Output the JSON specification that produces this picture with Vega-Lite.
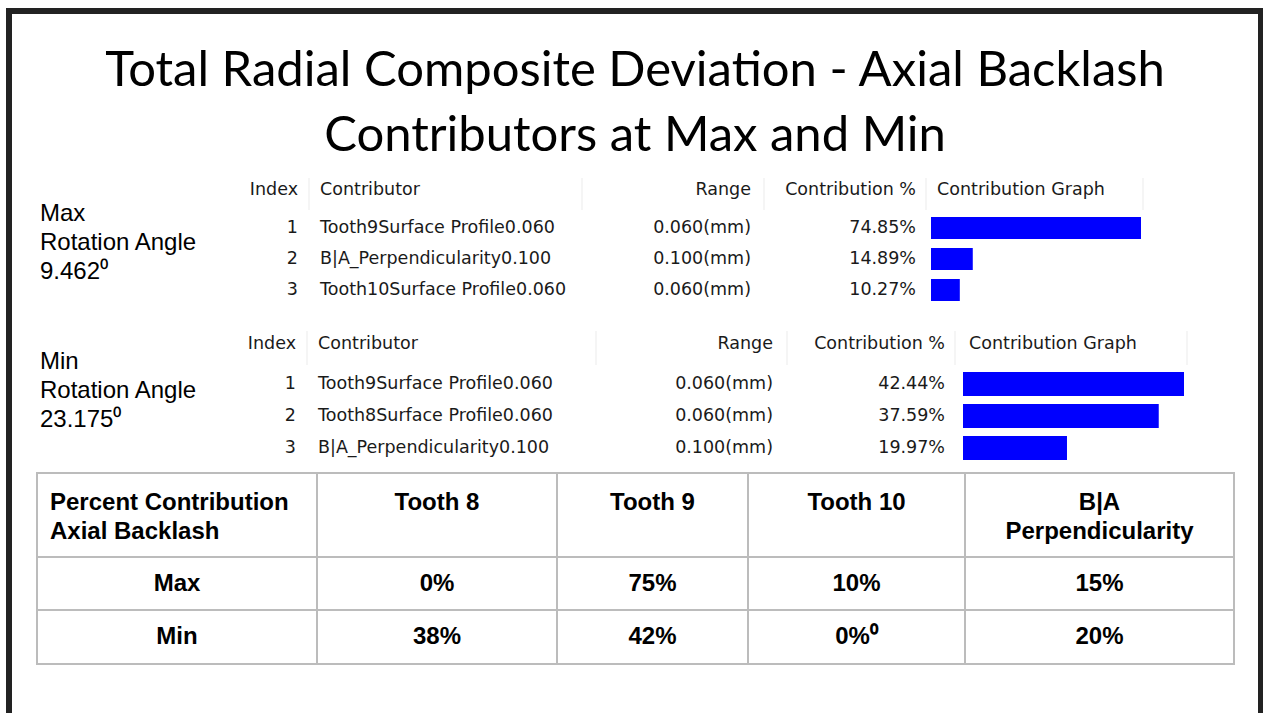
{
  "$schema": "https://vega.github.io/schema/vega-lite/v6.json",
  "width": 1263,
  "height": 713,
  "autosize": {"type": "fit", "contains": "padding"},
  "padding": {"left": 9, "top": 11, "right": 2, "bottom": -10},
  "background": "#ffffff",
  "title": {
    "text": ["Total Radial Composite Deviation - Axial Backlash", "Contributors at Max and Min"],
    "anchor": "middle",
    "frame": "group",
    "orient": "top",
    "offset": -150,
    "font": "Lato",
    "fontSize": 49,
    "fontWeight": "normal",
    "color": "#000000",
    "lineHeight": 65
  },
  "datasets": {
    "cases": [
      {"case": "Max", "label": "Max\nRotation Angle\n9.462⁰"},
      {"case": "Min", "label": "Min\nRotation Angle\n23.175⁰"}
    ],
    "contributorColumns": [
      {"col": 1, "header": "Index"},
      {"col": 2, "header": "Contributor"},
      {"col": 3, "header": "Range"},
      {"col": 4, "header": "Contribution %"},
      {"col": 5, "header": "Contribution Graph"}
    ],
    "contributors": [
      {"case": "Max", "Index": 1, "Contributor": "Tooth9Surface Profile0.060", "Range": "0.060(mm)", "Contribution": 0.7485},
      {"case": "Max", "Index": 2, "Contributor": "B|A_Perpendicularity0.100", "Range": "0.100(mm)", "Contribution": 0.1489},
      {"case": "Max", "Index": 3, "Contributor": "Tooth10Surface Profile0.060", "Range": "0.060(mm)", "Contribution": 0.1027},
      {"case": "Min", "Index": 1, "Contributor": "Tooth9Surface Profile0.060", "Range": "0.060(mm)", "Contribution": 0.4244},
      {"case": "Min", "Index": 2, "Contributor": "Tooth8Surface Profile0.060", "Range": "0.060(mm)", "Contribution": 0.3759},
      {"case": "Min", "Index": 3, "Contributor": "B|A_Perpendicularity0.100", "Range": "0.100(mm)", "Contribution": 0.1997}
    ],
    "summaryColumns": [
      {"col": 1, "header": "Percent Contribution\nAxial Backlash"},
      {"col": 2, "header": "Tooth 8"},
      {"col": 3, "header": "Tooth 9"},
      {"col": 4, "header": "Tooth 10"},
      {"col": 5, "header": "B|A\nPerpendicularity"}
    ],
    "summaryCells": [
      {"row": 1, "col": 1, "cell": "Max"},
      {"row": 1, "col": 2, "cell": "0%"},
      {"row": 1, "col": 3, "cell": "75%"},
      {"row": 1, "col": 4, "cell": "10%"},
      {"row": 1, "col": 5, "cell": "15%"},
      {"row": 2, "col": 1, "cell": "Min"},
      {"row": 2, "col": 2, "cell": "38%"},
      {"row": 2, "col": 3, "cell": "42%"},
      {"row": 2, "col": 4, "cell": "0%⁰"},
      {"row": 2, "col": 5, "cell": "20%"}
    ]
  },
  "layer": [
    {
      "layer": [
        {
          "data": {"name": "cases"},
          "transform": [{"filter": "datum.case === 'Max'"}],
          "mark": {"type": "text", "align": "left", "baseline": "middle", "font": "Liberation Sans", "fontSize": 24, "lineHeight": 29, "lineBreak": "\n", "dy": -14, "color": "#000000"},
          "encoding": {
            "x": {"datum": 0, "type": "quantitative", "scale": {"domain": [0, 1, 2, 3, 4, 5], "range": [31, 289, 311, 742, 907, 928], "nice": false, "zero": false, "padding": 0}, "axis": null},
            "y": {"datum": 1, "type": "quantitative", "scale": {"domain": [0, 1, 3], "range": [179, 217, 279], "nice": false, "zero": false, "padding": 0}, "axis": null},
            "text": {"field": "label"}
          }
        },
        {
          "data": {"name": "contributorColumns"},
          "transform": [{"filter": {"field": "col", "oneOf": [1, 3, 4]}}],
          "mark": {"type": "text", "align": "right", "baseline": "middle", "font": "DejaVu Sans", "fontSize": 17.5, "color": "#1a1a1a"},
          "encoding": {
            "x": {"field": "col", "type": "quantitative", "scale": {"domain": [0, 1, 2, 3, 4, 5], "range": [31, 289, 311, 742, 907, 928], "nice": false, "zero": false, "padding": 0}, "axis": null},
            "y": {"datum": 0, "type": "quantitative", "scale": {"domain": [0, 1, 3], "range": [179, 217, 279], "nice": false, "zero": false, "padding": 0}, "axis": null},
            "text": {"field": "header"}
          }
        },
        {
          "data": {"name": "contributorColumns"},
          "transform": [{"filter": {"field": "col", "oneOf": [2, 5]}}],
          "mark": {"type": "text", "align": "left", "baseline": "middle", "font": "DejaVu Sans", "fontSize": 17.5, "color": "#1a1a1a"},
          "encoding": {
            "x": {"field": "col", "type": "quantitative", "scale": {"domain": [0, 1, 2, 3, 4, 5], "range": [31, 289, 311, 742, 907, 928], "nice": false, "zero": false, "padding": 0}, "axis": null},
            "y": {"datum": 0, "type": "quantitative", "scale": {"domain": [0, 1, 3], "range": [179, 217, 279], "nice": false, "zero": false, "padding": 0}, "axis": null},
            "text": {"field": "header"}
          }
        },
        {
          "data": {"name": "contributors"},
          "transform": [{"filter": "datum.case === 'Max'"}],
          "mark": {"type": "text", "align": "right", "baseline": "middle", "font": "DejaVu Sans", "fontSize": 17.5, "color": "#1a1a1a"},
          "encoding": {
            "x": {"datum": 1, "type": "quantitative", "scale": {"domain": [0, 1, 2, 3, 4, 5], "range": [31, 289, 311, 742, 907, 928], "nice": false, "zero": false, "padding": 0}, "axis": null},
            "y": {"field": "Index", "type": "quantitative", "scale": {"domain": [0, 1, 3], "range": [179, 217, 279], "nice": false, "zero": false, "padding": 0}, "axis": null},
            "text": {"field": "Index"}
          }
        },
        {
          "data": {"name": "contributors"},
          "transform": [{"filter": "datum.case === 'Max'"}],
          "mark": {"type": "text", "align": "left", "baseline": "middle", "font": "DejaVu Sans", "fontSize": 17.5, "color": "#1a1a1a"},
          "encoding": {
            "x": {"datum": 2, "type": "quantitative", "scale": {"domain": [0, 1, 2, 3, 4, 5], "range": [31, 289, 311, 742, 907, 928], "nice": false, "zero": false, "padding": 0}, "axis": null},
            "y": {"field": "Index", "type": "quantitative", "scale": {"domain": [0, 1, 3], "range": [179, 217, 279], "nice": false, "zero": false, "padding": 0}, "axis": null},
            "text": {"field": "Contributor"}
          }
        },
        {
          "data": {"name": "contributors"},
          "transform": [{"filter": "datum.case === 'Max'"}],
          "mark": {"type": "text", "align": "right", "baseline": "middle", "font": "DejaVu Sans", "fontSize": 17.5, "color": "#1a1a1a"},
          "encoding": {
            "x": {"datum": 3, "type": "quantitative", "scale": {"domain": [0, 1, 2, 3, 4, 5], "range": [31, 289, 311, 742, 907, 928], "nice": false, "zero": false, "padding": 0}, "axis": null},
            "y": {"field": "Index", "type": "quantitative", "scale": {"domain": [0, 1, 3], "range": [179, 217, 279], "nice": false, "zero": false, "padding": 0}, "axis": null},
            "text": {"field": "Range"}
          }
        },
        {
          "data": {"name": "contributors"},
          "transform": [{"filter": "datum.case === 'Max'"}],
          "mark": {"type": "text", "align": "right", "baseline": "middle", "font": "DejaVu Sans", "fontSize": 17.5, "color": "#1a1a1a"},
          "encoding": {
            "x": {"datum": 4, "type": "quantitative", "scale": {"domain": [0, 1, 2, 3, 4, 5], "range": [31, 289, 311, 742, 907, 928], "nice": false, "zero": false, "padding": 0}, "axis": null},
            "y": {"field": "Index", "type": "quantitative", "scale": {"domain": [0, 1, 3], "range": [179, 217, 279], "nice": false, "zero": false, "padding": 0}, "axis": null},
            "text": {"field": "Contribution", "type": "quantitative", "format": ".2%"}
          }
        },
        {
          "data": {"name": "contributorColumns"},
          "mark": {"type": "tick", "orient": "vertical", "size": 32, "thickness": 1, "color": "#e2e2e2", "yOffset": 4},
          "encoding": {
            "x": {"field": "col", "type": "quantitative", "scale": {"domain": [1, 2, 3, 4, 5], "range": [300, 573, 755, 917, 1134], "nice": false, "zero": false, "padding": 0}, "axis": null},
            "y": {"datum": 0, "type": "quantitative", "scale": {"domain": [0, 1, 3], "range": [179, 217, 279], "nice": false, "zero": false, "padding": 0}, "axis": null}
          }
        },
        {
          "data": {"name": "contributors"},
          "transform": [{"filter": "datum.case === 'Max'"}],
          "mark": {"type": "bar", "orient": "horizontal", "size": 22, "color": "#0000ff"},
          "encoding": {
            "x": {"field": "Contribution", "type": "quantitative", "stack": null, "scale": {"range": [922, 1132], "nice": false, "zero": true, "padding": 0}, "axis": null},
            "y": {"field": "Index", "type": "quantitative", "scale": {"domain": [0, 1, 3], "range": [179, 217, 279], "nice": false, "zero": false, "padding": 0}, "axis": null}
          }
        }
      ],
      "resolve": {"scale": {"x": "independent"}}
    },
    {
      "layer": [
        {
          "data": {"name": "cases"},
          "transform": [{"filter": "datum.case === 'Min'"}],
          "mark": {"type": "text", "align": "left", "baseline": "middle", "font": "Liberation Sans", "fontSize": 24, "lineHeight": 29, "lineBreak": "\n", "dy": -22, "color": "#000000"},
          "encoding": {
            "x": {"datum": 0, "type": "quantitative", "scale": {"domain": [0, 1, 2, 3, 4, 5], "range": [31, 287, 309, 764, 936, 960], "nice": false, "zero": false, "padding": 0}, "axis": null},
            "y": {"datum": 1, "type": "quantitative", "scale": {"domain": [0, 1, 3], "range": [333, 373, 437], "nice": false, "zero": false, "padding": 0}, "axis": null},
            "text": {"field": "label"}
          }
        },
        {
          "data": {"name": "contributorColumns"},
          "transform": [{"filter": {"field": "col", "oneOf": [1, 3, 4]}}],
          "mark": {"type": "text", "align": "right", "baseline": "middle", "font": "DejaVu Sans", "fontSize": 17.5, "color": "#1a1a1a"},
          "encoding": {
            "x": {"field": "col", "type": "quantitative", "scale": {"domain": [0, 1, 2, 3, 4, 5], "range": [31, 287, 309, 764, 936, 960], "nice": false, "zero": false, "padding": 0}, "axis": null},
            "y": {"datum": 0, "type": "quantitative", "scale": {"domain": [0, 1, 3], "range": [333, 373, 437], "nice": false, "zero": false, "padding": 0}, "axis": null},
            "text": {"field": "header"}
          }
        },
        {
          "data": {"name": "contributorColumns"},
          "transform": [{"filter": {"field": "col", "oneOf": [2, 5]}}],
          "mark": {"type": "text", "align": "left", "baseline": "middle", "font": "DejaVu Sans", "fontSize": 17.5, "color": "#1a1a1a"},
          "encoding": {
            "x": {"field": "col", "type": "quantitative", "scale": {"domain": [0, 1, 2, 3, 4, 5], "range": [31, 287, 309, 764, 936, 960], "nice": false, "zero": false, "padding": 0}, "axis": null},
            "y": {"datum": 0, "type": "quantitative", "scale": {"domain": [0, 1, 3], "range": [333, 373, 437], "nice": false, "zero": false, "padding": 0}, "axis": null},
            "text": {"field": "header"}
          }
        },
        {
          "data": {"name": "contributors"},
          "transform": [{"filter": "datum.case === 'Min'"}],
          "mark": {"type": "text", "align": "right", "baseline": "middle", "font": "DejaVu Sans", "fontSize": 17.5, "color": "#1a1a1a"},
          "encoding": {
            "x": {"datum": 1, "type": "quantitative", "scale": {"domain": [0, 1, 2, 3, 4, 5], "range": [31, 287, 309, 764, 936, 960], "nice": false, "zero": false, "padding": 0}, "axis": null},
            "y": {"field": "Index", "type": "quantitative", "scale": {"domain": [0, 1, 3], "range": [333, 373, 437], "nice": false, "zero": false, "padding": 0}, "axis": null},
            "text": {"field": "Index"}
          }
        },
        {
          "data": {"name": "contributors"},
          "transform": [{"filter": "datum.case === 'Min'"}],
          "mark": {"type": "text", "align": "left", "baseline": "middle", "font": "DejaVu Sans", "fontSize": 17.5, "color": "#1a1a1a"},
          "encoding": {
            "x": {"datum": 2, "type": "quantitative", "scale": {"domain": [0, 1, 2, 3, 4, 5], "range": [31, 287, 309, 764, 936, 960], "nice": false, "zero": false, "padding": 0}, "axis": null},
            "y": {"field": "Index", "type": "quantitative", "scale": {"domain": [0, 1, 3], "range": [333, 373, 437], "nice": false, "zero": false, "padding": 0}, "axis": null},
            "text": {"field": "Contributor"}
          }
        },
        {
          "data": {"name": "contributors"},
          "transform": [{"filter": "datum.case === 'Min'"}],
          "mark": {"type": "text", "align": "right", "baseline": "middle", "font": "DejaVu Sans", "fontSize": 17.5, "color": "#1a1a1a"},
          "encoding": {
            "x": {"datum": 3, "type": "quantitative", "scale": {"domain": [0, 1, 2, 3, 4, 5], "range": [31, 287, 309, 764, 936, 960], "nice": false, "zero": false, "padding": 0}, "axis": null},
            "y": {"field": "Index", "type": "quantitative", "scale": {"domain": [0, 1, 3], "range": [333, 373, 437], "nice": false, "zero": false, "padding": 0}, "axis": null},
            "text": {"field": "Range"}
          }
        },
        {
          "data": {"name": "contributors"},
          "transform": [{"filter": "datum.case === 'Min'"}],
          "mark": {"type": "text", "align": "right", "baseline": "middle", "font": "DejaVu Sans", "fontSize": 17.5, "color": "#1a1a1a"},
          "encoding": {
            "x": {"datum": 4, "type": "quantitative", "scale": {"domain": [0, 1, 2, 3, 4, 5], "range": [31, 287, 309, 764, 936, 960], "nice": false, "zero": false, "padding": 0}, "axis": null},
            "y": {"field": "Index", "type": "quantitative", "scale": {"domain": [0, 1, 3], "range": [333, 373, 437], "nice": false, "zero": false, "padding": 0}, "axis": null},
            "text": {"field": "Contribution", "type": "quantitative", "format": ".2%"}
          }
        },
        {
          "data": {"name": "contributorColumns"},
          "mark": {"type": "tick", "orient": "vertical", "size": 34, "thickness": 1, "color": "#e2e2e2", "yOffset": 4},
          "encoding": {
            "x": {"field": "col", "type": "quantitative", "scale": {"domain": [1, 2, 3, 4, 5], "range": [298, 587, 778, 946, 1178], "nice": false, "zero": false, "padding": 0}, "axis": null},
            "y": {"datum": 0, "type": "quantitative", "scale": {"domain": [0, 1, 3], "range": [333, 373, 437], "nice": false, "zero": false, "padding": 0}, "axis": null}
          }
        },
        {
          "data": {"name": "contributors"},
          "transform": [{"filter": "datum.case === 'Min'"}],
          "mark": {"type": "bar", "orient": "horizontal", "size": 24, "color": "#0000ff"},
          "encoding": {
            "x": {"field": "Contribution", "type": "quantitative", "stack": null, "scale": {"range": [954, 1175], "nice": false, "zero": true, "padding": 0}, "axis": null},
            "y": {"field": "Index", "type": "quantitative", "scale": {"domain": [0, 1, 3], "range": [333, 373, 437], "nice": false, "zero": false, "padding": 0}, "axis": null}
          }
        }
      ],
      "resolve": {"scale": {"x": "independent"}}
    },
    {
      "layer": [
        {
          "data": {"name": "summaryColumns"},
          "transform": [{"filter": "datum.col === 1"}],
          "mark": {"type": "text", "align": "left", "baseline": "top", "font": "Liberation Sans", "fontSize": 24, "fontWeight": "bold", "lineHeight": 29, "lineBreak": "\n", "dx": -127, "dy": -10, "color": "#000000"},
          "encoding": {
            "x": {"field": "col", "type": "quantitative", "scale": {"domain": [1, 2, 3, 4, 5], "range": [168, 428, 643.5, 847.5, 1090.5], "nice": false, "zero": false, "padding": 0}, "axis": null},
            "y": {"datum": 0, "type": "quantitative", "scale": {"domain": [0, 1, 2], "range": [490, 573, 626], "nice": false, "zero": false, "padding": 0}, "axis": null},
            "text": {"field": "header"}
          }
        },
        {
          "data": {"name": "summaryColumns"},
          "transform": [{"filter": "datum.col > 1"}],
          "mark": {"type": "text", "align": "center", "baseline": "top", "font": "Liberation Sans", "fontSize": 24, "fontWeight": "bold", "lineHeight": 29, "lineBreak": "\n", "dy": -10, "color": "#000000"},
          "encoding": {
            "x": {"field": "col", "type": "quantitative", "scale": {"domain": [1, 2, 3, 4, 5], "range": [168, 428, 643.5, 847.5, 1090.5], "nice": false, "zero": false, "padding": 0}, "axis": null},
            "y": {"datum": 0, "type": "quantitative", "scale": {"domain": [0, 1, 2], "range": [490, 573, 626], "nice": false, "zero": false, "padding": 0}, "axis": null},
            "text": {"field": "header"}
          }
        },
        {
          "data": {"name": "summaryCells"},
          "mark": {"type": "text", "align": "center", "baseline": "middle", "font": "Liberation Sans", "fontSize": 24, "fontWeight": "bold", "color": "#000000"},
          "encoding": {
            "x": {"field": "col", "type": "quantitative", "scale": {"domain": [1, 2, 3, 4, 5], "range": [168, 428, 643.5, 847.5, 1090.5], "nice": false, "zero": false, "padding": 0}, "axis": null},
            "y": {"field": "row", "type": "quantitative", "scale": {"domain": [0, 1, 2], "range": [490, 573, 626], "nice": false, "zero": false, "padding": 0}, "axis": null},
            "text": {"field": "cell"}
          }
        },
        {
          "data": {"name": "summaryColumns"},
          "mark": {"type": "rect", "filled": false, "stroke": "#bcbcbc", "strokeWidth": 2},
          "encoding": {
            "x": {"field": "col", "type": "quantitative", "scale": {"domain": [1, 2, 3, 4, 5, 6], "range": [28, 308, 548, 739, 956, 1225], "nice": false, "zero": false, "padding": 0}, "axis": null},
            "x2": {"datum": 6},
            "y": {"datum": 0, "type": "quantitative", "scale": {"domain": [0, 1, 2, 3], "range": [462, 546, 599, 653], "nice": false, "zero": false, "padding": 0}, "axis": null},
            "y2": {"datum": 3}
          }
        },
        {
          "data": {"name": "summaryCells"},
          "transform": [{"filter": "datum.col === 1"}],
          "mark": {"type": "rect", "filled": false, "stroke": "#bcbcbc", "strokeWidth": 2},
          "encoding": {
            "x": {"datum": 1, "type": "quantitative", "scale": {"domain": [1, 2, 3, 4, 5, 6], "range": [28, 308, 548, 739, 956, 1225], "nice": false, "zero": false, "padding": 0}, "axis": null},
            "x2": {"datum": 6},
            "y": {"field": "row", "type": "quantitative", "scale": {"domain": [0, 1, 2, 3], "range": [462, 546, 599, 653], "nice": false, "zero": false, "padding": 0}, "axis": null},
            "y2": {"datum": 3}
          }
        }
      ],
      "resolve": {"scale": {"x": "independent", "y": "independent"}}
    }
  ],
  "resolve": {"scale": {"x": "independent", "y": "independent"}},
  "config": {"view": {"stroke": "#222222", "strokeWidth": 6}}
}
